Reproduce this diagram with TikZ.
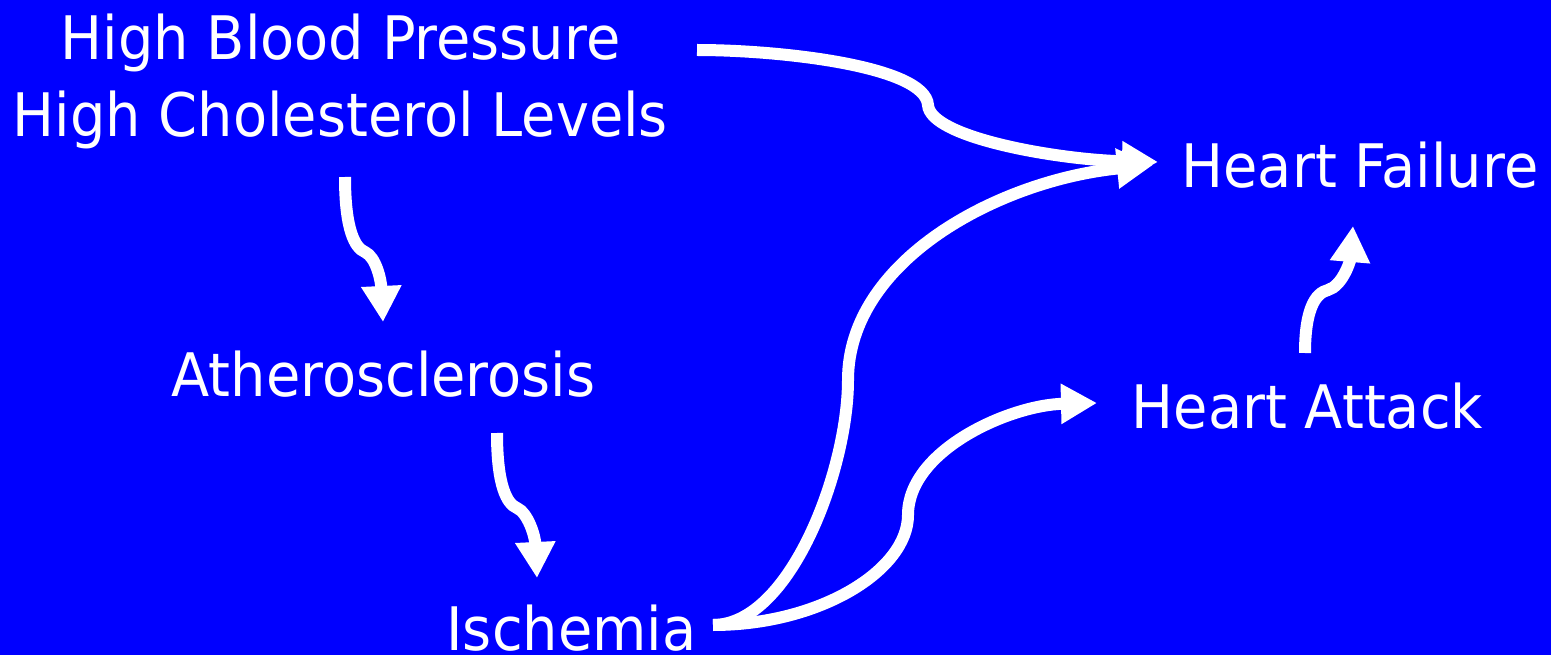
\documentclass[tikz,border=0pt]{standalone}
\usepackage{fontspec}
\setmainfont{DejaVu Sans}[FakeStretch=0.93]
\usetikzlibrary{arrows.meta}
\definecolor{bg}{RGB}{0,0,255}
\begin{document}
\begin{tikzpicture}[x=1pt,y=-1pt,
  lbl/.style={text=white,font=\fontsize{60}{72}\selectfont,anchor=base,inner sep=0pt},
  flow/.style={draw=white,line width=12pt,-{Triangle[width=38pt,length=36pt]}}]
\fill[bg] (0,0) rectangle (1551,655);
\useasboundingbox (0,0) rectangle (1551,655);
% labels
\node[lbl] (hbp) at (340.5,60) {High Blood Pressure};
\node[lbl] (hcl) at (340.5,137) {High Cholesterol Levels};
\node[lbl] (hf)  at (1360,188) {Heart Failure};
\node[lbl] (ath) at (383.5,396) {Atherosclerosis};
\node[lbl] (ha)  at (1307.5,428) {Heart Attack};
\node[lbl] (isc) at (571.5,650) {Ischemia};
% connector end points
\coordinate (hbpOut) at (697,50);
\coordinate (hfIn1)  at (1158,162);
\coordinate (hfIn2)  at (1153,165);
\coordinate (iscOut) at (713,625);
\coordinate (haIn)   at (1097,403);
\coordinate (hclOut) at (345,177);
\coordinate (athIn)  at (383,322);
\coordinate (athOut) at (497,433);
\coordinate (iscIn)  at (537,578);
\coordinate (haOut)  at (1305,353);
\coordinate (hfIn3)  at (1353,226);
% connectors
\draw[flow] (iscOut) .. controls (790,625) and (848,470) .. (848,380)
                     .. controls (848,260) and (1000,180) .. (hfIn2);
\draw[flow] (hbpOut) .. controls (780,50) and (925,66) .. (928,105)
                     .. controls (930,138) and (1060,160) .. (hfIn1);
\draw[flow] (iscOut) .. controls (820,625) and (908,570) .. (908,515)
                     .. controls (908,450) and (1010,405) .. (haIn);
\draw[flow] (hclOut) .. controls (345,230) and (355,248) .. (365,252)
                     .. controls (376,257) and (381,280) .. (athIn);
\draw[flow] (athOut) .. controls (497,486) and (507,504) .. (517,508)
                     .. controls (528,513) and (535,536) .. (iscIn);
\draw[flow] (haOut) .. controls (1305,310) and (1315,293) .. (1328,290)
                    .. controls (1342,286) and (1350,262) .. (hfIn3);
\end{tikzpicture}
\end{document}
